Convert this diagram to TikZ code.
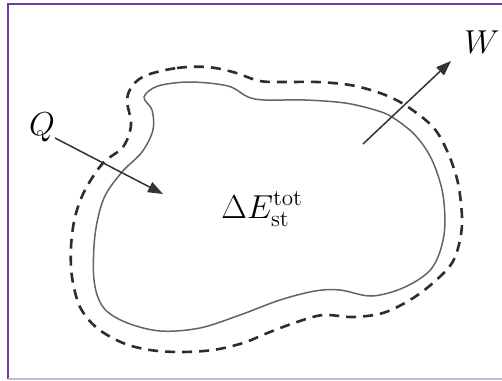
\documentclass[tikz,border=0pt]{standalone}
\usepackage{graphicx}
\usetikzlibrary{arrows.meta}
\definecolor{framepurple}{RGB}{112,56,168}
\definecolor{framelight}{RGB}{200,180,225}
\definecolor{solidgrey}{RGB}{100,100,100}
\definecolor{dashgrey}{RGB}{45,45,45}
\newcommand{\biglbl}[1]{\scalebox{1.6}{\huge #1}}
\begin{document}
\begin{tikzpicture}[x=1pt,y=-1pt,
  boundary/.style={draw=solidgrey,line width=1.5pt},
  envelope/.style={draw=dashgrey,line width=2.6pt,dash pattern=on 10pt off 7pt},
  flow/.style={draw=black!80,line width=1.5pt,-{Triangle[length=15pt,width=11pt]}},
  lbl/.style={inner sep=0pt}]
\useasboundingbox (0,0) rectangle (502,380);
\draw[framepurple,line width=2pt] (8,379) -- (8,4) -- (503,4);
\draw[framelight,line width=1.5pt] (8,379) -- (503,379);
% system boundary (solid)
\draw[boundary] plot[smooth cycle,tension=0.55] coordinates {
(144,97) (158,86) (190,82) (228,86) (248,97) (265,100) (305,100) (345,103)
(375,110) (392,117) (415,135) (432,160) (443,195) (444,235) (432,268) (405,287)
(372,296) (340,290) (315,291) (280,300) (240,315) (200,328) (160,331) (125,322)
(103,307) (94,280) (95,235) (104,198) (122,172) (142,152) (153,130) (152,110)};
% control surface (dashed)
\draw[envelope] plot[smooth cycle,tension=0.55] coordinates {
(147,75) (177,68) (207,67) (233,72) (260,81) (287,82) (317,82) (350,85)
(380,93) (405,105) (433,127) (448,153) (458,183) (462,217) (460,240) (452,263)
(433,283) (410,300) (383,313) (353,317) (323,315) (297,322) (270,332) (243,343)
(213,350) (180,352) (150,350) (123,343) (97,328) (80,307) (72,277) (71,247)
(75,217) (85,190) (103,163) (123,147) (131,125) (127,100) (133,85)};
% arrows
\coordinate (qs) at (55,138);
\coordinate (qe) at (163,194);
\coordinate (ws) at (363,144);
\coordinate (we) at (451,61);
\draw[flow] (qs) -- (qe);
\draw[flow] (ws) -- (we);
% labels
\node[lbl] (Q) at (42,127) {\biglbl{$Q$}};
\node[lbl] (W) at (482,42) {\biglbl{$W$}};
\node[lbl] (E) at (262,209) {\biglbl{$\Delta E^{\mathrm{tot}}_{\mathrm{st}}$}};
\end{tikzpicture}
\end{document}
